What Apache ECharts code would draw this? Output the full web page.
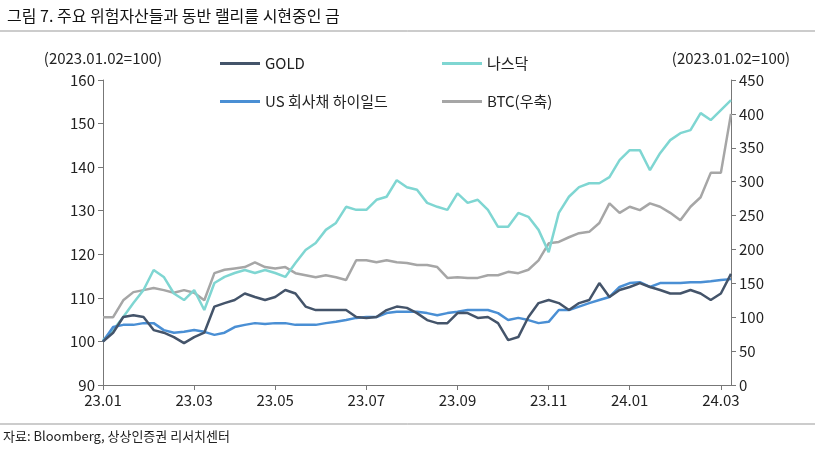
<!DOCTYPE html>
<html><head><meta charset="utf-8">
<script src="https://cdn.jsdelivr.net/npm/echarts@6/dist/echarts.min.js"></script>
<style>html,body{margin:0;padding:0;background:#fff}#c{width:815px;height:453px}</style>
</head><body><div id="c"></div>
<script>
const startDate = '2023-01-02';
const weeks = 63;
const gold = [100,102,105.6,106,105.6,102.6,102,101,99.6,101,
102,108,108.8,109.5,111,110.2,109.5,110.2,111.8,111,
108,107.2,107.2,107.2,107.2,105.6,105.4,105.6,107.2,108,
107.7,106.5,104.9,104.2,104.2,106.5,106.5,105.4,105.6,104.2,
100.3,101,105.6,108.8,109.5,108.8,107.2,108.8,109.5,113.4,
110.2,111.8,112.5,113.4,112.5,111.8,111,111,111.8,111,
109.5,111,115.5];
const nasdaq = [100.3,102.6,105.6,108.8,111.8,116.4,114.8,111,109.5,111.8,
107.2,113.4,114.8,115.7,116.4,115.7,116.4,115.7,114.8,118,
121,122.6,125.6,127.2,130.9,130.2,130.2,132.5,133.2,137,
135.4,134.8,131.8,130.9,130.2,134,131.8,132.5,130.2,126.3,
126.3,129.5,128.6,125.6,120.5,129.5,133.2,135.4,136.3,136.3,
137.7,141.6,143.9,143.9,139.3,143.2,146.2,147.8,148.5,152.4,
150.8,153.1,155.4];
const hy = [100,103.3,103.8,103.8,104.2,104.2,102.6,102,102.2,102.6,
102.2,101.5,102,103.3,103.8,104.2,104,104.2,104.2,103.8,
103.8,103.8,104.2,104.5,104.9,105.4,105.6,105.6,106.5,106.8,
106.8,106.8,106.5,106,106.5,106.8,107.2,107.2,107.2,106.5,
104.9,105.4,104.9,104.2,104.5,107.2,107.2,108,108.8,109.5,
110.2,112.5,113.4,113.6,112.5,113.4,113.4,113.4,113.6,113.6,
113.8,114.1,114.3];
const btc = [100,100,125,137,140,143,140,136,140,136,
125,165,170,172,174,181,174,172,174,165,
162,159,162,159,155,184,184,181,184,181,
180,177,177,174,158,159,158,158,162,162,
167,165,170,184,209,211,218,224,226,239,
268,254,263,258,268,263,254,243,263,277,
313,313,400];
const names = ['GOLD','나스닥','US 회사채 하이일드','BTC(우축)'];
const colors = ['#44546a','#7fd6d2','#4a8fd4','#a6a6a6'];

const dates = [];
const d0 = new Date(startDate + 'T00:00:00Z');
for (let i = 0; i < weeks; i++) {
  const d = new Date(d0.getTime() + i * 7 * 86400000);
  dates.push(d.toISOString().slice(0,10));
}
function isLabel(i){
  const m = +dates[i].slice(5,7), day = +dates[i].slice(8,10);
  return m % 2 === 1 && day <= 7;
}
const font = '"Noto Sans CJK KR","Noto Sans",sans-serif';
const chart = echarts.init(document.getElementById('c'));
const mk = (i, data, yi) => ({name: names[i], type:'line', data, yAxisIndex: yi, showSymbol:false,
  lineStyle:{width:2.5,color:colors[i]}, itemStyle:{color:colors[i]}, z: yi===1?1:2});
const lg = (n, l, t) => ({data:[n], left:l, top:t, icon:'rect', itemWidth:40, itemHeight:3,
  itemGap:6, textStyle:{fontSize:15, color:'#222', fontFamily:font}});
chart.setOption({
  animation:false,
  textStyle:{fontFamily:font},
  title:{text:'그림 7. 주요 위험자산들과 동반 랠리를 시현중인 금', left:2, top:3,
    textStyle:{fontSize:16, fontWeight:'normal', color:'#111', fontFamily:font}},
  legend:[lg(names[0],215,51), lg(names[1],437,51), lg(names[3],437,89), lg(names[2],215,89)],
  grid:{left:103, right:84, top:80, bottom:68},
  xAxis:{type:'category', data:dates, boundaryGap:false,
    axisLine:{lineStyle:{color:'#777'}},
    axisTick:{interval:(i)=>isLabel(i), length:5, lineStyle:{color:'#777'}},
    axisLabel:{interval:(i)=>isLabel(i), formatter:(v)=>v.slice(2,4)+'.'+v.slice(5,7),
      fontSize:15, color:'#222', margin:8}},
  yAxis:[
    {type:'value', min:90, max:160, interval:10, splitLine:{show:false},
     axisLine:{show:true, lineStyle:{color:'#777'}}, axisTick:{show:true, lineStyle:{color:'#777'}},
     axisLabel:{fontSize:15, color:'#222'},
     name:'(2023.01.02=100)', nameGap:14, nameTextStyle:{fontSize:15, color:'#222', align:'center', padding:[0,0,0,0]}},
    {type:'value', min:0, max:450, interval:50, splitLine:{show:false},
     axisLine:{show:true, lineStyle:{color:'#777'}}, axisTick:{show:true, lineStyle:{color:'#777'}},
     axisLabel:{fontSize:15, color:'#222'},
     name:'(2023.01.02=100)', nameGap:14, nameTextStyle:{fontSize:15, color:'#222', align:'center'}}
  ],
  graphic:[
    {type:'line', shape:{x1:0,y1:31,x2:815,y2:31}, style:{stroke:'#999', lineWidth:1}},
    {type:'line', shape:{x1:0,y1:424,x2:815,y2:424}, style:{stroke:'#999', lineWidth:1}},
    {type:'text', left:3, top:430, style:{text:'자료: Bloomberg, 상상인증권 리서치센터', fontSize:13, fill:'#222', fontFamily:font}}
  ],
  series:[mk(3,btc,1), mk(1,nasdaq,0), mk(2,hy,0), mk(0,gold,0)]
});
</script></body></html>
